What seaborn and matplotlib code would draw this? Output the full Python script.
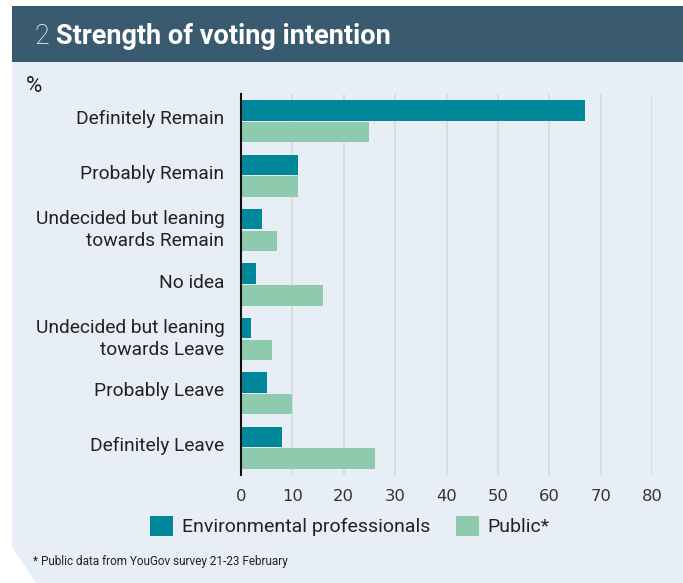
import matplotlib
matplotlib.use("Agg")
import matplotlib.pyplot as plt
from matplotlib.patches import Rectangle, Polygon
import matplotlib.transforms as mtransforms
import seaborn as sns
import pandas as pd

# Survey answers, top to bottom
categories = [
    "Definitely Remain",
    "Probably Remain",
    "Undecided but leaning\ntowards Remain",
    "No idea",
    "Undecided but leaning\ntowards Leave",
    "Probably Leave",
    "Definitely Leave",
]
professionals = [67, 11, 4, 3, 2, 5, 8]
public = [25, 11, 7, 16, 6, 10, 26]
series_names = ["Environmental professionals", "Public*"]
x_ticks = [0, 10, 20, 30, 40, 50, 60, 70, 80]

TEAL = "#00889A"
MINT = "#8DCAAE"
HEADER = "#3A5B6F"
PANEL = "#E8EEF5"
GRID = "#D9DDE1"
TEXT = "#222222"

df = pd.DataFrame({
    "answer": categories * 2,
    "group": [series_names[0]] * len(categories) + [series_names[1]] * len(categories),
    "pct": professionals + public,
})

W, H = 683, 583
fig = plt.figure(figsize=(W / 100, H / 100), dpi=100)
fig.patch.set_facecolor("white")


def fx(px):
    return px / W


def fy(py):
    return 1 - py / H


# header band and light panel with clipped bottom-left corner
fig.add_artist(Rectangle((fx(12), fy(62)), fx(683) - fx(12), fy(6) - fy(62),
                         transform=fig.transFigure, facecolor=HEADER,
                         edgecolor="none", zorder=0))
fig.add_artist(Polygon([(fx(12), fy(62)), (fx(683), fy(62)), (fx(683), fy(583)),
                        (fx(36), fy(583)), (fx(12), fy(547))],
                       closed=True, transform=fig.transFigure,
                       facecolor=PANEL, edgecolor="none", zorder=0))

ax = fig.add_axes([fx(241), fy(475), fx(652) - fx(241), fy(94) - fy(475)])
ax.set_facecolor("none")

sns.barplot(data=df, y="answer", x="pct", hue="group", orient="h",
            palette=[TEAL, MINT], width=0.8, gap=0.06, saturation=1,
            order=categories, hue_order=series_names, ax=ax, zorder=3)

handles, labels = ax.get_legend_handles_labels()
ax.get_legend().remove()

ax.set_xlim(0, 80)
ax.set_ylim(6.5, -0.5)
ax.set_xticks(x_ticks)
ax.set_xticklabels([str(t) for t in x_ticks], fontsize=11.8, color="#333333",
                   family="DejaVu Sans")
ax.set_xlabel("")
ax.set_ylabel("")
ax.tick_params(axis="both", length=0)
ax.tick_params(axis="x", pad=10)
ax.tick_params(axis="y", pad=12)
lift = mtransforms.ScaledTranslation(0, 4 / 100, fig.dpi_scale_trans)
for lab in ax.get_yticklabels():
    lab.set_fontsize(13.8)
    lab.set_family("Roboto")
    lab.set_color(TEXT)
    lab.set_multialignment("right")
    lab.set_linespacing(1.3)
    lab.set_transform(lab.get_transform() + lift)

ax.grid(axis="x", color=GRID, linewidth=1.4, zorder=0)
ax.grid(axis="y", visible=False)
for side in ["top", "right", "bottom"]:
    ax.spines[side].set_visible(False)
ax.spines["left"].set_color("#111111")
ax.spines["left"].set_linewidth(1.5)
ax.spines["left"].set_zorder(5)

# title
fig.text(fx(34), fy(36), "2", color="white", fontsize=19.5, family="Roboto",
         fontweight="light", va="center", ha="left")
fig.text(fx(56), fy(36), "Strength of voting intention", color="white",
         fontsize=19.5, family="Roboto", fontweight="bold", va="center", ha="left")

fig.text(fx(26), fy(86), "%", fontsize=16, family="Roboto", color=TEXT,
         va="center", ha="left")

fig.legend(handles, labels, loc="center", bbox_to_anchor=(fx(350), fy(526)),
           ncol=2, frameon=False, prop={"family": "Roboto", "size": 14},
           handlelength=1.2, handleheight=1.2, handletextpad=0.45,
           columnspacing=1.3, labelcolor=TEXT)

fig.text(fx(33), fy(562), "* Public data from YouGov survey 21-23 February",
         fontsize=8.5, family="Roboto", color=TEXT, va="center", ha="left")

fig.savefig("out.png", dpi=100)
